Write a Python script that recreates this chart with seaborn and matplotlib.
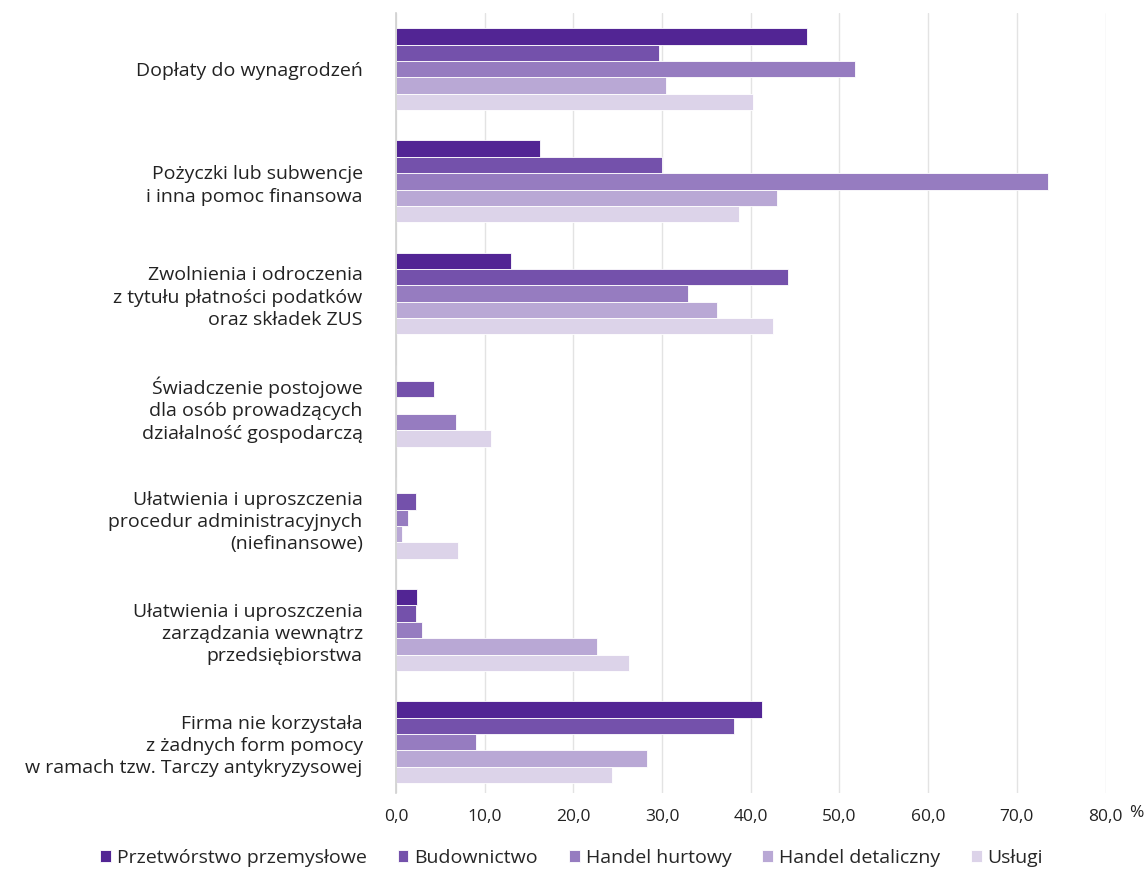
import pandas as pd
import matplotlib.pyplot as plt
import seaborn as sns

# -------------------------------
# Data (%)
# -------------------------------
categories = [
    "Dopłaty do wynagrodzeń",
    "Pożyczki lub subwencje\ni inna pomoc finansowa",
    "Zwolnienia i odroczenia\nz tytułu płatności podatków\noraz składek ZUS",
    "Świadczenie postojowe\ndla osób prowadzących\ndziałalność gospodarczą",
    "Ułatwienia i uproszczenia\nprocedur administracyjnych\n(niefinansowe)",
    "Ułatwienia i uproszczenia\nzarządzania wewnątrz\nprzedsiębiorstwa",
    "Firma nie korzystała\nz żadnych form pomocy\nw ramach tzw. Tarczy antykryzysowej",
]
sectors = ["Przetwórstwo przemysłowe", "Budownictwo", "Handel hurtowy",
           "Handel detaliczny", "Usługi"]

przetworstwo = [46.3, 16.2, 13.0, 0.0, 0.0, 2.4, 41.3]
budownictwo = [29.7, 30.0, 44.2, 4.3, 2.3, 2.2, 38.1]
handel_hurtowy = [51.7, 73.5, 32.9, 0.0, 1.4, 2.9, 9.0]
handel_detaliczny = [30.4, 43.0, 36.2, 6.8, 0.7, 22.7, 28.3]
uslugi = [40.3, 38.7, 42.5, 10.7, 7.0, 26.3, 24.4]

x_ticks = [0, 10, 20, 30, 40, 50, 60, 70, 80]
colors = ["#522594", "#7451ab", "#967cc0", "#b9a8d5", "#dcd3e9"]

df = pd.DataFrame({
    "kategoria": categories * 5,
    "sektor": [s for s in sectors for _ in categories],
    "wartosc": przetworstwo + budownictwo + handel_hurtowy + handel_detaliczny + uslugi,
})

# -------------------------------
# Plot
# -------------------------------
sns.set_theme(style="white")
plt.rcParams["font.family"] = ["Open Sans", "DejaVu Sans"]

fig = plt.figure(figsize=(11.48, 8.71), dpi=100)
ax = fig.add_axes([0.345, 0.09, 0.618, 0.895])

sns.barplot(data=df, y="kategoria", x="wartosc", hue="sektor", orient="h",
            palette=colors, saturation=1, width=0.73, gap=0,
            edgecolor="white", linewidth=0.6, ax=ax, legend=True)

# in the reference the "Świadczenie postojowe" bar in the detaliczny row uses the hurtowy shade
det_patches = ax.containers[3]
det_patches[3].set_facecolor(colors[2])

ax.set_xlim(0, 80)
ax.set_ylim(6.45, -0.5)
ax.set_xticks(x_ticks)
ax.set_xticklabels([f"{t:.1f}".replace(".", ",") for t in x_ticks], fontsize=12.5,
                   color="#222222")
fig.text(1129 / 1148, 1 - 813 / 871, "%", fontsize=12.5, color="#222222",
         ha="left", va="center")
ax.set_yticks(range(len(categories)))
ax.set_yticklabels(categories, fontsize=14, color="#222222", linespacing=1.3)
ax.tick_params(axis="y", length=0, pad=24)
ax.tick_params(axis="x", length=0, pad=12)
ax.set_xlabel("")
ax.set_ylabel("")

ax.grid(axis="x", color="#e3e3e3", linewidth=1)
ax.set_axisbelow(True)
for side in ["top", "right", "bottom"]:
    ax.spines[side].set_visible(False)
ax.spines["left"].set_color("#d0d0d0")
ax.spines["left"].set_linewidth(1.2)

handles, labels = ax.get_legend_handles_labels()
ax.legend(handles, labels, loc="center", bbox_to_anchor=(0.498, 0.015),
          bbox_transform=fig.transFigure, ncol=5, frameon=False, fontsize=14,
          handlelength=0.55, handleheight=0.55, handletextpad=0.3, columnspacing=1.6)

plt.savefig("out.png", dpi=100)
